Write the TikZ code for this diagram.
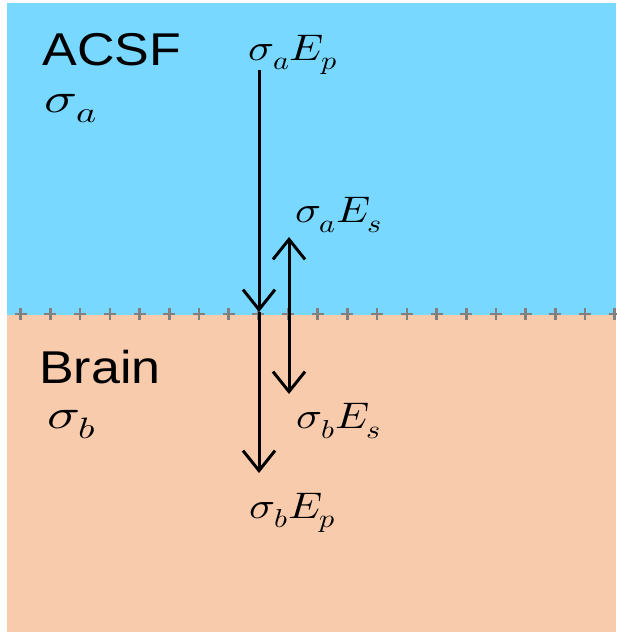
\documentclass[tikz,border=0pt]{standalone}
\usepackage{fontspec}
\usepackage{unicode-math}
\setmainfont{Liberation Sans}
\setmathfont{Latin Modern Math}
\usetikzlibrary{arrows.meta}
\definecolor{acsf}{RGB}{120,216,255}
\definecolor{brain}{RGB}{248,203,173}
\definecolor{plusgray}{RGB}{128,128,128}
\tikzset{
  region/.style={fill=#1, draw=none},
  bigtext/.style={font=\fontsize{46}{52}\selectfont, inner sep=0pt, xscale=1.13, anchor=center},
  mathlbl/.style={font=\fontsize{37}{42}\selectfont, inner sep=0pt, xscale=1.16, anchor=center},
  sigmalbl/.style={font=\fontsize{42}{48}\selectfont, inner sep=0pt, xscale=1.3, anchor=base},
  flux/.style={line width=3pt, -{Straight Barb[length=20pt,width=32pt,line width=3pt]}},
  plusmark/.style={plusgray, line width=2.6pt}
}
\begin{document}
\begin{tikzpicture}[x=1pt,y=-1pt]
\useasboundingbox (0,0) rectangle (616,632);
\fill[white] (0,0) rectangle (616,632);
\fill[region=acsf] (7,3) rectangle (616,315);
\fill[region=brain] (7,315) rectangle (616,632);
% plus markers along the interface
\foreach \i in {0,...,20}{
  \pgfmathsetmacro{\px}{20.7+29.7*\i}
  \draw[plusmark] (\px-6,314) -- (\px+6,314) (\px,308) -- (\px,320);
}
% region labels
\node[bigtext] (acsf) at (112,50) {ACSF};
\node[sigmalbl] (siga) at (71,112) {$\sigma_a$};
\node[bigtext] (brain) at (100,367) {Brain};
\node[sigmalbl] (sigb) at (72,428) {$\sigma_b$};
% flux labels
\node[mathlbl] (aEp) at (293,55) {$\sigma_a E_p$};
\node[mathlbl] (aEs) at (339,215) {$\sigma_a E_s$};
\node[mathlbl] (bEs) at (339,421) {$\sigma_b E_s$};
\node[mathlbl] (bEp) at (293,513) {$\sigma_b E_p$};
% arrow coordinates
\coordinate (p0) at (259,70);
\coordinate (p1) at (259,312);
\coordinate (p2) at (259,473);
\coordinate (s0) at (289,313);
\coordinate (s1) at (289,237);
\coordinate (s2) at (289,394);
\draw[flux] (p0) -- (p1);
\draw[flux] (p1) -- (p2);
\draw[flux] (s0) -- (s1);
\draw[flux] (s0) -- (s2);
\end{tikzpicture}
\end{document}
